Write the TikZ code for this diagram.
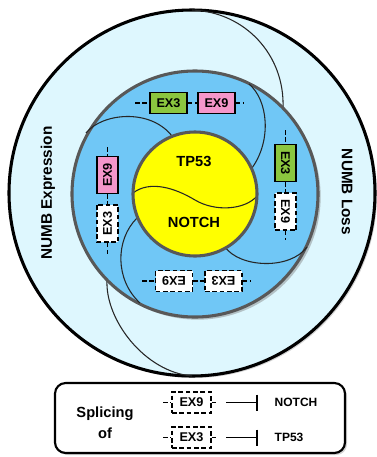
\documentclass[tikz,border=0pt]{standalone}
\usepackage{fontspec}
\setmainfont{Liberation Sans}
\usetikzlibrary{arrows.meta,shadows}
\definecolor{palecyan}{RGB}{222,247,254}
\definecolor{ringblue}{RGB}{112,199,246}
\definecolor{coreyellow}{RGB}{255,255,0}
\definecolor{exgreen}{RGB}{139,198,63}
\definecolor{expink}{RGB}{244,150,202}
\definecolor{ringgray}{RGB}{88,88,88}

\begin{document}
\begin{tikzpicture}[x=0.75pt,y=-0.75pt,
  exon/.style={draw,line width=1.1pt,minimum width=27.75pt,minimum height=15.75pt,inner sep=0pt,font=\bfseries\fontsize{9.5}{9.5}\selectfont},
  ex3/.style={exon,fill=exgreen},
  ex9/.style={exon,fill=expink},
  spliced/.style={exon,fill=white,dash pattern=on 3.5pt off 2pt},
  exline/.style={line width=1.4pt,dash pattern=on 3.5pt off 1.8pt},
  swirl/.style={line width=0.8pt,black!85},
  numb/.style={font=\bfseries\fontsize{11.5}{11.5}\selectfont},
  gene/.style={font=\bfseries\fontsize{11}{11}\selectfont},
  keytext/.style={font=\bfseries\fontsize{9}{9}\selectfont},
  inhibit/.style={line width=1.2pt,-{Bar[width=12pt,line width=1.2pt]}}]
\useasboundingbox (0,0) rectangle (377,457);

% outer ring
\draw[fill=palecyan,line width=2.3pt,drop shadow={opacity=0.35,shadow xshift=1.5pt,shadow yshift=-1.5pt}] (192,193) circle (137.25pt);
\draw[swirl] (192,10) .. controls (245,12) and (285,55) .. (283,108);
\draw[swirl] (107,280) .. controls (105,320) and (145,372) .. (192,376);

% middle ring
\draw[fill=ringblue,draw=ringgray,line width=2.3pt,drop shadow={opacity=0.45,shadow xshift=2pt,shadow yshift=-2pt}] (195,194) circle (92.25pt);
\draw[swirl] (86,133) .. controls (102,113) and (150,108) .. (172,136);
\draw[swirl] (249,84) .. controls (268,100) and (272,140) .. (252,168);
\draw[swirl] (225,247) .. controls (240,268) and (290,270) .. (307,247);
\draw[swirl] (137,218) .. controls (115,240) and (115,280) .. (140,303);

% core
\fill[coreyellow] (195,194) circle (46.5pt);
\draw[swirl] (133,193) .. controls (150,180) and (175,188) .. (195,200)
  .. controls (215,212) and (245,210) .. (257,196);
\draw[draw=ringgray,line width=2.3pt] (195,194) circle (46.5pt);
\node (tp53) [gene] at (194,161) {TP53};
\node (notch) [gene] at (194,222.5) {NOTCH};

\node (expr) [numb,rotate=90] at (48,193) {NUMB Expression};
\node (loss) [numb,rotate=-90] at (347,192) {NUMB Loss};

% exons
\coordinate (tl) at (135,103); \coordinate (tr) at (243,103);
\node (t3) [ex3] at (168.5,103) {EX3};
\node (t9) [ex9] at (216.5,103) {EX9};
\draw[exline] (tl) -- (t3) -- (t9) -- (tr);

\coordinate (rt) at (285.5,130); \coordinate (rb) at (285.5,240);
\node (r3) [ex3,rotate=-90] at (285.5,163) {EX3};
\node (r9) [spliced,rotate=-90] at (285.5,211.5) {EX9};
\draw[exline] (rt) -- (r3) -- (r9) -- (rb);

\coordinate (lt) at (107.5,147); \coordinate (lb) at (107.5,256);
\node (l9) [ex9,rotate=90] at (107.5,175) {EX9};
\node (l3) [spliced,rotate=90] at (107.5,223.5) {EX3};
\draw[exline] (lt) -- (l9) -- (l3) -- (lb);

\coordinate (bl) at (142,281); \coordinate (br) at (251,281);
\node (b9) [spliced,rotate=180] at (174,281) {EX9};
\node (b3) [spliced,rotate=180] at (223.5,281) {EX3};
\draw[exline] (bl) -- (b9) -- (b3) -- (br);

% key
\node (key) [draw,rounded corners=8pt,line width=1.6pt,fill=white,minimum width=217.5pt,minimum height=52.5pt,drop shadow={opacity=0.35,shadow xshift=1.5pt,shadow yshift=-1.5pt}] at (200,418) {};
\node (splicing) [font=\bfseries\fontsize{11}{15.75}\selectfont,align=center] at (105,422.5) {Splicing\\of};

\coordinate (k9a) at (163,402.5); \coordinate (k9b) at (216,402.5);
\node (k9) [spliced,minimum width=29.25pt] at (191.5,402.5) {EX9};
\draw[exline] (k9a) -- (k9) -- (k9b);
\coordinate (i9a) at (226,402.5); \coordinate (i9b) at (258,402.5);
\draw[inhibit] (i9a) -- (i9b);
\node (knotch) [keytext,anchor=west] at (270,402.5) {NOTCH};

\coordinate (k3a) at (163,437.5); \coordinate (k3b) at (216,437.5);
\node (k3) [spliced,minimum width=29.25pt] at (191.5,437.5) {EX3};
\draw[exline] (k3a) -- (k3) -- (k3b);
\coordinate (i3a) at (226,437.5); \coordinate (i3b) at (258,437.5);
\draw[inhibit] (i3a) -- (i3b);
\node (ktp53) [keytext,anchor=west] at (270,437.5) {TP53};
\end{tikzpicture}
\end{document}
